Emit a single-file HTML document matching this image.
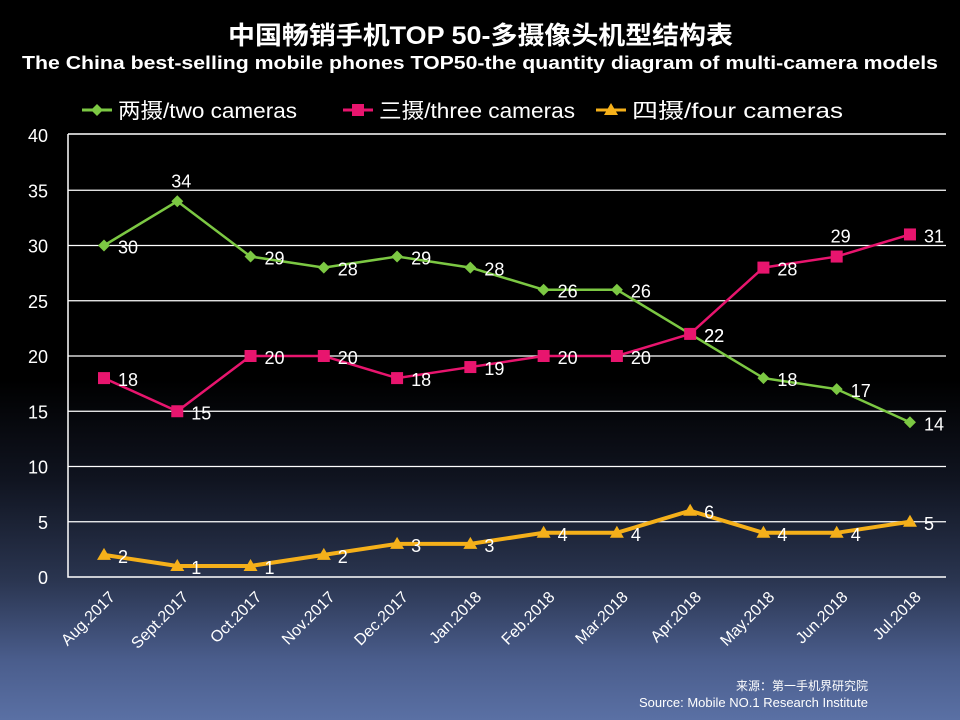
<!DOCTYPE html>
<html><head><meta charset="utf-8"><style>
html,body{margin:0;padding:0;}
body{width:960px;height:720px;overflow:hidden;background:linear-gradient(to bottom,#000 0px,#000 380px,#101420 480px,#2a3550 580px,#4a5d8c 660px,#5a70a4 720px);font-family:"Liberation Sans","Noto Sans CJK SC",sans-serif;}
svg{position:absolute;left:0;top:0;}
</style></head><body>
<svg width="960" height="720">
<text x="228" y="44" textLength="505" lengthAdjust="spacingAndGlyphs" fill="#fff" font-size="25" font-weight="bold" font-family="Liberation Sans,Noto Sans CJK SC,sans-serif">中国畅销手机TOP 50-多摄像头机型结构表</text>
<text x="22" y="69" textLength="916" lengthAdjust="spacingAndGlyphs" fill="#fff" font-size="18" font-weight="bold">The China best-selling mobile phones TOP50-the quantity diagram of multi-camera models</text>
<g id="legend"></g>
<path d="M68,134 L946,134 M68,134 L68,577 L946,577" fill="none" stroke="#fff" stroke-width="1.5"/>
<g id="grid"></g><g id="series"></g><g id="xlabels"></g>
<text x="868" y="690" text-anchor="end" fill="#fff" font-size="12">来源：第一手机界研究院</text>
<text x="868" y="707" text-anchor="end" fill="#fff" font-size="13">Source: Mobile NO.1 Research Institute</text>
</svg>
<script>
const categories=["Aug.2017","Sept.2017","Oct.2017","Nov.2017","Dec.2017","Jan.2018","Feb.2018","Mar.2018","Apr.2018","May.2018","Jun.2018","Jul.2018"];
const twoCams=[30,34,29,28,29,28,26,26,22,18,17,14];
const threeCams=[18,15,20,20,18,19,20,20,22,28,29,31];
const fourCams=[2,1,1,2,3,3,4,4,6,4,4,5];
const yTicks=[0,5,10,15,20,25,30,35,40];
const seriesNames=["两摄/two cameras","三摄/three cameras","四摄/four cameras"];
const NS="http://www.w3.org/2000/svg";
function X(i){return 104+i*73.27;}
function Y(v){return 577-v*11.05;}
function mk(tag,attrs,parent){const e=document.createElementNS(NS,tag);for(const k in attrs)e.setAttribute(k,attrs[k]);parent.appendChild(e);return e;}
const grid=document.getElementById('grid');
yTicks.forEach(t=>{
  if(t>0&&t<40){const l=mk('line',{x1:68,x2:946,y1:Y(t),y2:Y(t),stroke:'#fff','stroke-width':1.2},grid);
  
  }
  const tx=mk('text',{x:48,y:Y(t)+7,'text-anchor':'end',fill:'#fff','font-size':18},grid);
  tx.textContent=t;
  
  
});
const xl=document.getElementById('xlabels');
categories.forEach((c,i)=>{
  const tx=mk('text',{x:0,y:0,'text-anchor':'end',fill:'#fff','font-size':16,transform:`translate(${X(i)+12},${598}) rotate(-45)`},xl);
  tx.textContent=c;
  
  
});
const sg=document.getElementById('series');
const defs=[{d:twoCams,c:'#7cc843',m:'diamond',n:'two'},{d:threeCams,c:'#e8156e',m:'square',n:'three'},{d:fourCams,c:'#f5b01a',m:'tri',n:'four'}];
function marker(type,x,y,c,p){
  if(type==='diamond')return mk('polygon',{points:`${x},${y-6} ${x+6},${y} ${x},${y+6} ${x-6},${y}`,fill:c},p);
  if(type==='square')return mk('rect',{x:x-6,y:y-6,width:12,height:12,fill:c},p);
  return mk('polygon',{points:`${x},${y-7} ${x+7},${y+5} ${x-7},${y+5}`,fill:c},p);
}
const above={two:[1],three:[10],four:[]};
defs.forEach(s=>{
  const pts=s.d.map((v,i)=>X(i)+','+Y(v)).join(' ');
  const pl=mk('polyline',{points:pts,fill:'none',stroke:s.c,'stroke-width':s.n==='four'?4:2.5},sg);
  
  
  s.d.forEach((v,i)=>{
    const m=marker(s.m,X(i),Y(v),s.c,sg);
    
    
    const up=above[s.n].includes(i);
    const t=mk('text',{x:up?X(i)+4:X(i)+14,y:up?Y(v)-14:Y(v)+8,'text-anchor':up?'middle':'start',fill:'#fff','font-size':18},sg);
    t.textContent=v;
    
    
  });
});
const lg=document.getElementById('legend');
const lx=[82,343,596];
const lw=[179,196,211];
defs.forEach((s,i)=>{
  const l=mk('line',{x1:lx[i],x2:lx[i]+30,y1:110,y2:110,stroke:s.c,'stroke-width':3},lg);
  
  
  const m=marker(s.m,lx[i]+15,110,s.c,lg);
  
  
  const t=mk('text',{x:lx[i]+36,y:118,fill:'#fff','font-size':21,textLength:lw[i],lengthAdjust:'spacingAndGlyphs'},lg);
  t.textContent=seriesNames[i];
  
  
});
</script>
</body></html>
